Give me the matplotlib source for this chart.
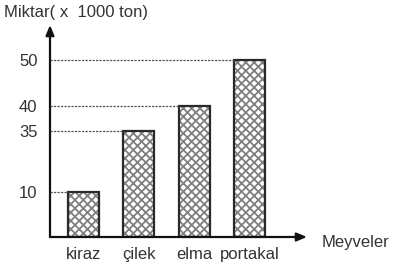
import matplotlib
matplotlib.use("Agg")
import matplotlib.pyplot as plt
import numpy as np
from matplotlib.scale import FuncScale

plt.rcParams['font.family'] = ['Liberation Sans', 'DejaVu Sans']
plt.rcParams['hatch.linewidth'] = 1.3

fruits = ["kiraz", "çilek", "elma", "portakal"]
amounts = [10, 35, 40, 50]
ytick_vals = [10, 35, 40, 50]

# the drawing is not to scale: map values to axis height piecewise
scale_vals = [0, 10, 35, 40, 50, 60]
scale_disp = [0, 45, 106, 131, 177, 212]

def fwd(v):
    return np.interp(v, scale_vals, scale_disp, left=-1e3, right=1e3)

def inv(d):
    return np.interp(d, scale_disp, scale_vals)

fig = plt.figure(figsize=(4.07, 2.74), dpi=100)
ax = fig.add_axes([50/407, 37/274, 257/407, 212/274])
ax.set_yscale(FuncScale(ax.yaxis, (fwd, inv)))
ax.set_ylim(0, 60)
ax.set_xlim(-0.6, 4.03)

x = np.arange(len(fruits))
w = 0.56
ax.bar(x, amounts, width=w, color="white", edgecolor="#808080", hatch="xxxx", linewidth=0)
ax.bar(x, amounts, width=w, fill=False, edgecolor="#2a2a2a", linewidth=1.6)

for xi, v in zip(x, amounts):
    ax.plot([-0.6, xi - w/2], [v, v], color="#555555", lw=0.9,
            ls=(0, (1.8, 1.0)), clip_on=False)

for s in ax.spines.values():
    s.set_visible(False)

ax.annotate("", xy=(0, 1), xytext=(0, 0), xycoords="axes fraction",
            arrowprops=dict(arrowstyle="-|>,head_length=0.6,head_width=0.25",
                            color="#111111", lw=1.6, shrinkA=0, shrinkB=0))
ax.annotate("", xy=(1, 0), xytext=(0, 0), xycoords="axes fraction",
            arrowprops=dict(arrowstyle="-|>,head_length=0.6,head_width=0.25",
                            color="#111111", lw=1.6, shrinkA=0, shrinkB=0))

ax.set_yticks(ytick_vals)
ax.set_yticklabels([str(v) for v in ytick_vals], fontsize=12, color="#333333")
ax.yaxis.set_minor_locator(matplotlib.ticker.NullLocator())
ax.set_xticks(x)
ax.set_xticklabels(fruits, fontsize=12, color="#333333")
ax.tick_params(axis="both", length=0)
ax.tick_params(axis="y", pad=9)
ax.tick_params(axis="x", pad=7)

fig.text(4/407, 1 - 13/274, "Miktar( x  1000 ton)", fontsize=12, color="#333333",
         va="center", ha="left")
fig.text(322/407, 1 - 242/274, "Meyveler", fontsize=12, color="#333333",
         va="center", ha="left")

fig.savefig("out.png", dpi=100)
